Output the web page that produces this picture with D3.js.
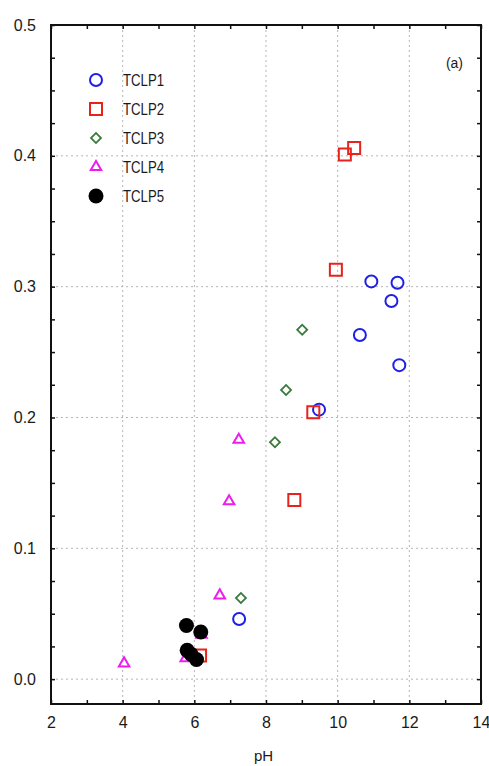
<!DOCTYPE html>
<html>
<head>
<meta charset="utf-8">
<script src="https://cdn.jsdelivr.net/npm/d3@7"></script>
<style>
  body { margin: 0; background: #fff; }
  text { font-family: "Liberation Sans", Arial, sans-serif; fill: #1a1a1a; }
</style>
</head>
<body>
<div id="svgzone"></div>
<script>
// series: [pH, value]
let tclp1 = [[10.94, 0.304], [11.67, 0.303], [11.5, 0.289], [10.62, 0.263], [11.72, 0.240], [9.48, 0.206], [7.25, 0.046]];
let tclp2 = [[10.46, 0.406], [10.2, 0.401], [9.95, 0.313], [9.32, 0.204], [8.79, 0.137], [6.16, 0.018]];
let tclp3 = [[9.01, 0.267], [8.56, 0.221], [8.25, 0.181], [7.30, 0.062]];
let tclp4 = [[7.24, 0.183], [6.97, 0.136], [6.71, 0.064], [4.04, 0.012], [5.76, 0.016], [6.2, 0.034]];
let tclp5 = [[5.78, 0.041], [6.18, 0.036], [5.80, 0.022], [5.91, 0.019], [6.06, 0.015]];

let seriesNames = ["TCLP1", "TCLP2", "TCLP3", "TCLP4", "TCLP5"];
let xTicks = [2, 4, 6, 8, 10, 12, 14];
let yTicks = [0, 0.1, 0.2, 0.3, 0.4, 0.5];

let margin = { top: 25, right: 8, bottom: 62, left: 51 },
    width = 489 - margin.left - margin.right,
    height = 766 - margin.top - margin.bottom;

let svg = d3.select("#svgzone")
    .append("svg")
    .attr("width", 489)
    .attr("height", 766)
    .append("g")
    .attr("transform", "translate(" + margin.left + "," + margin.top + ")");

let x = d3.scaleLinear().domain([2, 14]).range([0, width]);
let y = d3.scaleLinear().domain([-0.019, 0.5]).range([height, 0]);

// dotted grid at the labelled ticks
svg.append("g")
    .selectAll("line")
    .data(xTicks)
    .enter()
    .append("line")
    .attr("x1", d => x(d)).attr("x2", d => x(d))
    .attr("y1", 0).attr("y2", height)
    .attr("stroke", "#b5b5b5")
    .attr("stroke-dasharray", "2,3");
svg.append("g")
    .selectAll("line")
    .data(yTicks)
    .enter()
    .append("line")
    .attr("x1", 0).attr("x2", width)
    .attr("y1", d => y(d)).attr("y2", d => y(d))
    .attr("stroke", "#b5b5b5")
    .attr("stroke-dasharray", "2,3");

// inward ticks on all four sides
let minorX = d3.range(2, 14.01, 1);
let minorY = d3.range(0, 0.501, 0.025);
function tickAxis(axis, ticks, t) {
    let g = svg.append("g").attr("transform", t)
        .call(axis.tickValues(ticks).tickSize(-4).tickFormat(""));
    g.select(".domain").remove();
    g.selectAll(".tick line").attr("stroke", "#111").attr("stroke-width", 1.5);
}
tickAxis(d3.axisBottom(x), minorX, "translate(0," + height + ")");
tickAxis(d3.axisTop(x), minorX, "translate(0,0)");
tickAxis(d3.axisLeft(y), minorY, "translate(0,0)");
tickAxis(d3.axisRight(y), minorY, "translate(" + width + ",0)");

// tick labels
let xLab = svg.append("g")
    .attr("transform", "translate(0," + height + ")")
    .call(d3.axisBottom(x).tickValues(xTicks).tickSize(0).tickPadding(24).tickFormat(d3.format("d")));
xLab.select(".domain").remove();
xLab.selectAll("text").style("font-size", "16px").attr("fill", "#1a1a1a").attr("dy", 0);

let yLab = svg.append("g")
    .call(d3.axisLeft(y).tickValues(yTicks).tickSize(0).tickPadding(15).tickFormat(d3.format(".1f")));
yLab.select(".domain").remove();
yLab.selectAll("text").style("font-size", "16px").attr("fill", "#1a1a1a");

// frame
svg.append("rect")
    .attr("width", width).attr("height", height)
    .attr("fill", "none").attr("stroke", "#111").attr("stroke-width", 2);

svg.append("text")
    .attr("x", x(8) - 12)
    .attr("y", height + 57)
    .style("font-size", "15px")
    .text("pH");

svg.append("text")
    .attr("x", width - 18)
    .attr("y", 43)
    .attr("text-anchor", "end")
    .style("font-size", "14px")
    .text("(a)");

// marker styles per series
let styles = [
    { data: tclp1, type: d3.symbolCircle, size: 113, fill: "none", stroke: "#1f1fe6", sw: 2, rot: 0 },
    { data: tclp2, type: d3.symbolSquare, size: 144, fill: "none", stroke: "#e8231e", sw: 2, rot: 0 },
    { data: tclp3, type: d3.symbolSquare, size: 50, fill: "none", stroke: "#3a7a3a", sw: 1.8, rot: 45 },
    { data: tclp4, type: d3.symbolTriangle, size: 48, fill: "none", stroke: "#ee1cee", sw: 2, rot: 0 },
    { data: tclp5, type: d3.symbolCircle, size: 177, fill: "#000", stroke: "none", sw: 0, rot: 0 }
];

styles.forEach(function (s) {
    svg.append("g")
        .selectAll("path")
        .data(s.data)
        .enter()
        .append("path")
        .attr("d", d3.symbol().type(s.type).size(s.size))
        .attr("transform", d => "translate(" + x(d[0]) + "," + y(d[1]) + ") rotate(" + s.rot + ")")
        .attr("fill", s.fill)
        .attr("stroke", s.stroke)
        .attr("stroke-width", s.sw);
});

// legend
let legend = svg.append("g").attr("transform", "translate(45,55)");
legend.selectAll("path")
    .data(styles)
    .enter()
    .append("path")
    .attr("d", s => d3.symbol().type(s.type).size(s.size)())
    .attr("transform", (s, i) => "translate(0," + (i * 29) + ") rotate(" + s.rot + ")")
    .attr("fill", s => s.fill)
    .attr("stroke", s => s.stroke)
    .attr("stroke-width", s => s.sw);
legend.selectAll("text")
    .data(seriesNames)
    .enter()
    .append("text")
    .attr("x", 27)
    .attr("y", (d, i) => i * 29 + 6)
    .attr("textLength", 41)
    .attr("lengthAdjust", "spacingAndGlyphs")
    .style("font-size", "16px")
    .text(d => d);
</script>
</body>
</html>
